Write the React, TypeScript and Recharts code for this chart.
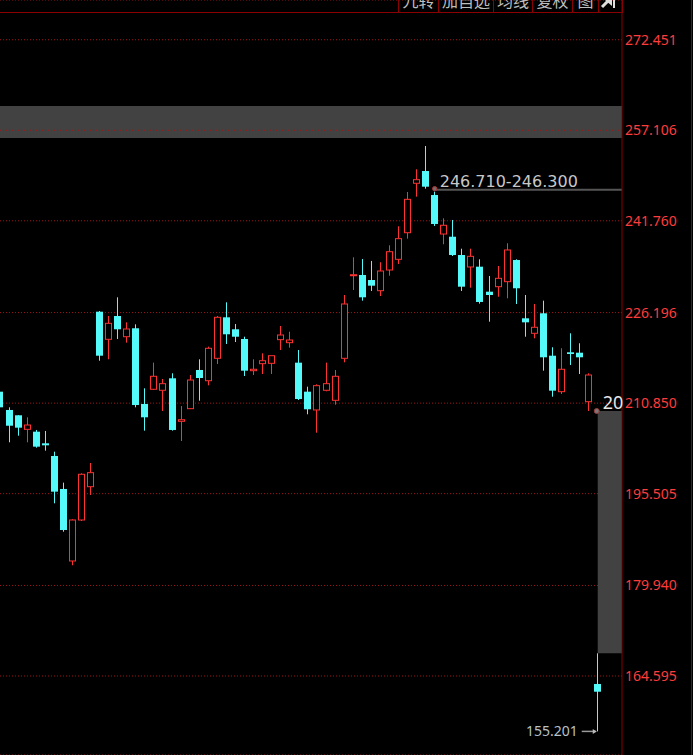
import { Bar, CartesianGrid, ComposedChart, ReferenceArea, ReferenceDot, ReferenceLine, XAxis, YAxis } from 'recharts';

// one entry per trading day, left to right
const opens = [
  212.79, 209.69, 208.79, 206.41, 206.01, 204.04, 201.89, 196.3, 184.09, 191.04,
  196.68, 226.35, 221.67, 225.62, 222.11, 223.54, 210.7, 213.2, 213.03, 215.06,
  207.77, 209.91, 216.47, 214.65, 218.45, 225.4, 223.37, 221.72, 216.35, 217.54,
  217.6, 221.61, 221.1, 217.71, 212.79, 209.69, 213.03, 211.33, 218.45, 232.45,
  232.57, 231.72, 229.91, 233.42, 235.23, 239.74, 248.12, 250.2, 246.13, 239.52,
  239.06, 235.96, 233.93, 233.98, 229.74, 230.59, 231.44, 235.11, 225.23, 222.69,
  226.08, 218.89, 212.79, 219.47, 219.4, 211.09, 163.24,
];
const highs = [
  213.25, 210.14, 208.8, 208.45, 206.3, 206.13, 202.62, 197.37, 191.16, 198.96,
  200.7, 226.47, 225.62, 228.79, 224.55, 224.21, 213.36, 217.71, 214.94, 215.91,
  210.36, 215.62, 218.28, 220.42, 225.62, 227.94, 224.26, 222.11, 218.28, 219.3,
  218.89, 223.93, 222.96, 219.86, 213.64, 214.04, 217.71, 216.47, 229.18, 235.57,
  235.28, 234.95, 234.73, 237.61, 240.83, 246.64, 250.49, 254.44, 246.7, 242.18,
  241.9, 237.03, 237.03, 235.23, 232.4, 234.1, 237.95, 235.23, 229.18, 227.66,
  228.22, 220.32, 220.15, 222.69, 221.0, 215.91, 168.44,
];
const lows = [
  209.69, 204.21, 205.33, 204.21, 203.3, 202.79, 193.87, 189.05, 183.36, 190.87,
  195.28, 218.04, 218.28, 221.72, 221.1, 210.14, 206.18, 213.08, 209.52, 206.18,
  204.43, 209.86, 211.26, 213.87, 217.48, 220.88, 221.21, 215.45, 215.62, 215.79,
  215.79, 219.86, 220.25, 211.38, 208.96, 205.84, 212.86, 210.58, 217.77, 230.03,
  228.22, 229.86, 229.01, 232.45, 234.44, 238.73, 245.85, 247.2, 240.88, 237.78,
  235.79, 229.86, 230.42, 227.71, 224.66, 228.89, 228.62, 227.66, 222.11, 221.84,
  216.35, 211.94, 212.4, 217.31, 215.79, 209.52, 155.201,
];
const closes = [
  210.14, 207.02, 206.69, 207.14, 203.47, 203.7, 195.84, 189.34, 191.04, 198.79,
  199.06, 218.89, 224.38, 223.37, 223.42, 210.53, 208.45, 215.4, 214.15, 206.3,
  208.04, 214.77, 215.11, 220.15, 225.4, 222.52, 222.11, 216.35, 216.59, 218.04,
  218.89, 222.4, 221.55, 211.55, 209.81, 213.81, 214.15, 215.4, 227.66, 232.62,
  228.79, 230.76, 233.25, 236.52, 238.73, 245.4, 248.73, 247.54, 241.22, 241.0,
  235.96, 230.59, 235.74, 228.0, 229.18, 232.01, 236.81, 230.32, 224.55, 223.71,
  218.62, 212.96, 216.59, 219.18, 218.62, 215.62, 161.93,
];

const priceTicks = [272.451, 257.106, 241.76, 226.196, 210.85, 195.505, 179.94, 164.595];
const toolbarLabels = ['九转', '加自选', '均线', '复权', '图'];

// unfilled gaps
const oldGap = [255.8, 261.22];
const gapLevels = [246.85, 247.2];
const gapText = '246.710-246.300';
const lastGap = [168.44, 209.52];
const lastGapText = '20';
const lowText = '155.201';

const CYAN = '#54fafa';
const RED = '#ff3232';
const GRID = '#a01414';

const rows = opens.map((open, i) => ({
  idx: i,
  open,
  high: highs[i],
  low: lows[i],
  close: closes[i],
  range: [lows[i], highs[i]],
}));

function Candle(props: any) {
  const { x, y, width, height, payload } = props;
  if (x == null || !payload) return null;
  const { open, close, high, low } = payload;
  const top = Math.min(y, y + height);
  const span = Math.abs(height);
  const py = (v: number) => (high === low ? top : top + ((high - v) / (high - low)) * span);
  const cx = Math.floor(x + width / 2) + 0.5;
  const bodyTop = py(Math.max(open, close));
  const bodyBot = py(Math.min(open, close));
  const bodyH = Math.max(bodyBot - bodyTop, 1);
  if (close >= open) {
    return (
      <g>
        <line x1={cx} x2={cx} y1={top} y2={bodyTop} stroke={RED} />
        <line x1={cx} x2={cx} y1={bodyTop + bodyH} y2={top + span} stroke={RED} />
        <rect x={cx - 3} y={bodyTop} width={6} height={bodyH} fill="#000" stroke={RED} />
      </g>
    );
  }
  return (
    <g>
      <line x1={cx} x2={cx} y1={top} y2={top + span} stroke={CYAN} />
      <rect x={cx - 3.5} y={bodyTop} width={7} height={bodyH} fill={CYAN} />
    </g>
  );
}

function GapMark({ cx, cy }: any) {
  return (
    <g>
      <circle cx={cx} cy={cy} r={2.2} fill="#6e6e6e" stroke="#b03030" strokeWidth={1} />
      <text x={cx + 5} y={cy - 2} fill="#c8c8c8" fontSize={16} fontFamily="DejaVu Sans">
        {gapText}
      </text>
    </g>
  );
}

function LastGapMark({ cx, cy }: any) {
  return (
    <g>
      <circle cx={cx - 1} cy={cy} r={2.5} fill="#777" stroke="#9a3a3a" strokeWidth={1} />
      <text x={cx + 5} y={cy - 1.5} fill="#e6e6e6" fontSize={18} fontFamily="Noto Sans">
        {lastGapText}
      </text>
    </g>
  );
}

function LowMark({ cx, cy }: any) {
  return (
    <g>
      <line x1={cx - 16} x2={cx - 2} y1={cy} y2={cy} stroke="#9a9a9a" strokeWidth={1.5} />
      <path d={`M${cx - 1} ${cy} L${cx - 5} ${cy - 2.5} L${cx - 5} ${cy + 2.5} Z`} fill="#bbb" />
      <text x={cx - 20} y={cy + 5} textAnchor="end" fill="#b4c0ca" fontSize={14} fontFamily="Noto Sans">
        {lowText}
      </text>
    </g>
  );
}

const toolbarEdges = [398.5, 438.5, 493.5, 532.5, 572.5, 598.5, 622.5];

export default function App() {
  return (
    <div style={{ position: 'fixed', left: 0, top: 0, width: 693, height: 755, background: '#000' }}>
      <ComposedChart width={693} height={755} data={rows} margin={{ top: 0, right: 0, bottom: 0, left: 0 }}>
        <XAxis dataKey="idx" type="number" domain={[0, 68.68]} allowDataOverflow hide />
        <YAxis
          orientation="right"
          domain={[151.2, 279.19]}
          allowDataOverflow
          ticks={priceTicks}
          tickFormatter={(v: number) => v.toFixed(3)}
          width={71}
          tickLine={false}
          tickSize={0}
          tickMargin={3}
          axisLine={{ stroke: '#8b0000' }}
          tick={{ fill: '#ff3c3c', fontSize: 14, fontFamily: 'Noto Sans' }}
        />
        <CartesianGrid vertical={false} stroke={GRID} strokeDasharray="1 2" />
        <ReferenceArea y1={oldGap[0]} y2={oldGap[1]} fill="#424242" fillOpacity={1} stroke="none" />
        {/* grid row that shows through the old gap band */}
        <ReferenceLine y={priceTicks[1]} stroke={GRID} strokeDasharray="1 2" />
        <ReferenceArea x1={48} x2={68.68} y1={gapLevels[0]} y2={gapLevels[1]} fill="#565656" fillOpacity={1} stroke="none" />
        <ReferenceArea x1={66} x2={68.68} y1={lastGap[0]} y2={lastGap[1]} fill="#424242" fillOpacity={1} stroke="none" />
        <Bar dataKey="range" barSize={7} shape={<Candle />} isAnimationActive={false} />
        <ReferenceDot x={48} y={gapLevels[1]} shape={<GapMark />} />
        <ReferenceDot x={66} y={lastGap[1]} shape={<LastGapMark />} />
        <ReferenceDot x={66} y={lows[lows.length - 1]} shape={<LowMark />} />
      </ComposedChart>
      <svg width={693} height={755} style={{ position: 'absolute', left: 0, top: 0, pointerEvents: 'none' }}>
        <line x1={0} x2={623} y1={12.5} y2={12.5} stroke="#8b0000" />
        {toolbarEdges.map((e) => (
          <line key={e} x1={e} x2={e} y1={0} y2={12} stroke="#8b0000" />
        ))}
        {toolbarLabels.map((t, i) => (
          <text
            key={t}
            x={(toolbarEdges[i] + toolbarEdges[i + 1]) / 2}
            y={7}
            textAnchor="middle"
            fill="#bdbdbd"
            fontSize={16}
            fontFamily="Noto Sans CJK SC"
          >
            {t}
          </text>
        ))}
        <path d="M602 7 L609 0" stroke="#e0e0e0" strokeWidth={3} />
        <path d="M605 0 L612 0 L612 6 Z" fill="#e0e0e0" />
        <rect x={613} y={0} width={2} height={8} fill="#e0e0e0" />
        <line x1={691.5} x2={691.5} y1={0} y2={755} stroke="#8b0000" />
      </svg>
    </div>
  );
}
